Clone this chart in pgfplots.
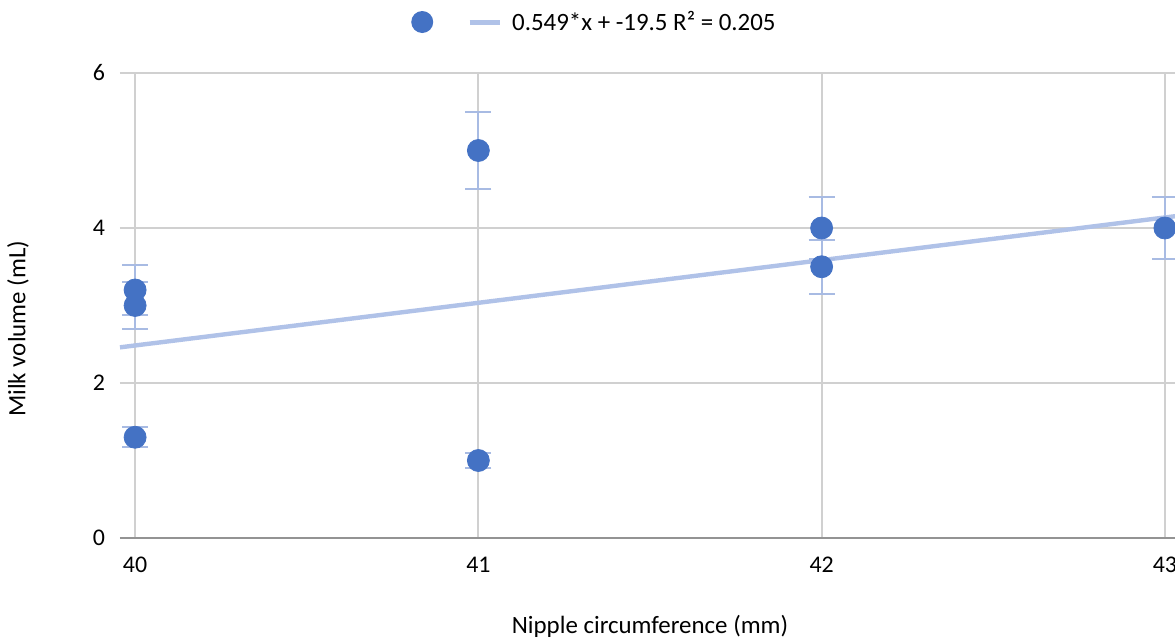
\documentclass[border=0pt]{standalone}
\usepackage{pgfplots}
\pgfplotsset{compat=1.18}
\usepackage{fontspec}
\setmainfont{Carlito}
\definecolor{dotblue}{HTML}{4472C4}
\definecolor{barblue}{HTML}{A8BBE3}
\definecolor{trendblue}{HTML}{B0C2E8}
\definecolor{gridgray}{HTML}{D0D0D0}
\begin{document}
\begin{tikzpicture}
\begin{axis}[
    name=ax,
    scale only axis,
    width=530bp, height=232.5bp,
    xmin=39.956, xmax=43.044,
    ymin=0, ymax=6,
    xtick={40,41,42,43},
    ytick={0,2,4,6},
    grid=major,
    major grid style={gridgray, line width=0.9bp},
    major tick length=0pt,
    axis line style={draw=none},
    tick label style={font=\fontsize{12}{14}\selectfont},
    /pgf/number format/assume math mode=true,
    xticklabel style={yshift=-6bp},
    yticklabel style={xshift=-4bp},
    xlabel={Nipple circumference (mm)},
    ylabel={Milk volume (mL)},
    label style={font=\fontsize{12.5}{15}\selectfont},
    xlabel style={at={(rel axis cs:0.5,-0.19)}, anchor=center},
    ylabel style={at={(rel axis cs:-0.0962,0.45)}, anchor=center},
    clip=false,
    legend columns=2,
    legend style={draw=none, fill=none, at={(rel axis cs:0.4485,1)}, anchor=center, yshift=25.5bp,
        font=\fontsize{12.5}{15}\selectfont, /tikz/every even column/.append style={column sep=13bp}},
    legend image code/.code={},
]
\draw[gray!85, line width=0.9bp] (rel axis cs:0,0) -- (rel axis cs:1,0);
\addlegendimage{only marks, mark=*, mark size=5.5bp, color=dotblue, legend image code/.code={\draw[fill=dotblue,draw=none] (0.3cm,0cm) circle (5.5bp);}}
\addlegendentry{}
\addlegendimage{legend image code/.code={\draw[trendblue, line width=2.5bp] (0cm,0cm) -- (15bp,0cm);}}
\addlegendentry{\hspace*{3bp}0.549*x + -19.5 R² = 0.205}
\addplot[trendblue, line width=2.2bp, forget plot] coordinates {(39.956,2.46) (43.044,4.16)};
\addplot[forget plot, only marks, mark=*, mark size=5.5bp, color=dotblue, mark options={draw=none, fill=dotblue},
    error bars/.cd, y dir=both, y explicit,
    error bar style={barblue, line width=1bp},
    error mark options={rotate=90, mark size=6.5bp, barblue, line width=1bp}]
coordinates {
(40,3.2) +- (0,0.32)
(40,3.0) +- (0,0.30)
(40,1.3) +- (0,0.13)
(41,5.0) +- (0,0.50)
(41,1.0) +- (0,0.10)
(42,4.0) +- (0,0.40)
(42,3.5) +- (0,0.35)
(43,4.0) +- (0,0.40)
};
\end{axis}
\pgfresetboundingbox
\path[use as bounding box] ([xshift=-60bp,yshift=-50.5bp]ax.south west) rectangle ([xshift=527.5bp,yshift=269bp]ax.south west);
\end{tikzpicture}
\end{document}
